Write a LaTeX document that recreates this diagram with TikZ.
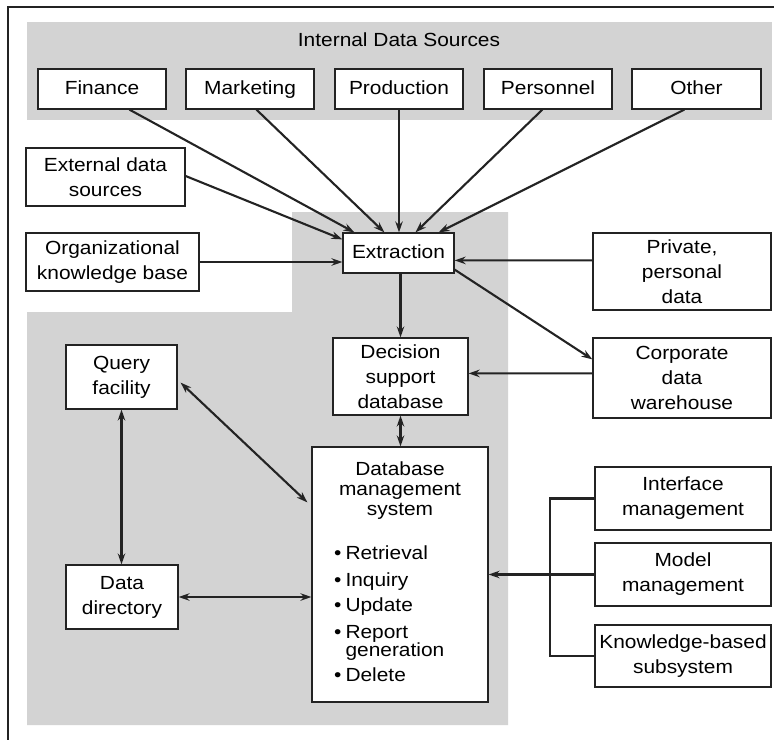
\documentclass[tikz,border=0pt]{standalone}
\usepackage{fontspec}
\setmainfont{Liberation Sans}[FakeStretch=1.1]
\usetikzlibrary{arrows.meta,calc}
\newcommand\dssfont{\fontsize{19bp}{25bp}\selectfont}
\newcommand\dsstitlefont{\fontsize{19bp}{20bp}\selectfont}
\definecolor{panelgray}{RGB}{211,211,211}
\definecolor{ink}{RGB}{35,35,35}
\begin{document}
\begin{tikzpicture}[x=1bp,y=-1bp,
  box/.style={draw=ink, line width=1.2bp, fill=white, inner sep=0pt,
              align=center, font=\dssfont},
  oneline/.style={text height=14bp, text depth=4bp},
  conn/.style={draw=ink, line width=2.1bp, -{Stealth[length=11bp,width=7.5bp]}},
  bicon/.style={draw=ink, line width=2.1bp,
                {Stealth[length=11bp,width=7.5bp]}-{Stealth[length=11bp,width=7.5bp]}},
  tie/.style={draw=ink, line width=2.1bp},
]
\useasboundingbox (0,0) rectangle (775,740);

% page frame (top and left rule)
\draw[ink, line width=1.3bp] (8,740) -- (8,7) -- (774,7);

% shaded panels
\fill[panelgray] (27,22) rectangle (772,120);
\fill[panelgray] (292,212) -- (508,212) -- (508,725) -- (27,725)
                 -- (27,312) -- (292,312) -- cycle;

% internal data sources
\node[font=\dssfont, oneline] (intitle) at (399,42) {Internal Data Sources};
\node[box, oneline, minimum width=128bp, minimum height=40bp] (fin)  at (102,89)   {Finance};
\node[box, oneline, minimum width=128bp, minimum height=40bp] (mkt)  at (250,89)   {Marketing};
\node[box, oneline, minimum width=128bp, minimum height=40bp] (prod) at (399,89)   {Production};
\node[box, oneline, minimum width=128bp, minimum height=40bp] (pers) at (548,89)   {Personnel};
\node[box, oneline, minimum width=129bp, minimum height=40bp] (oth)  at (696.5,89) {Other};

% other sources
\node[box, minimum width=159bp, minimum height=58bp] (exs) at (105.5,177) {External data\\sources};
\node[box, minimum width=173bp, minimum height=58bp] (org) at (112.5,262) {Organizational\\knowledge base};
\node[box, minimum width=178bp, minimum height=77bp] (prv) at (682,271.5) {Private,\\personal\\data};
\node[box, minimum width=178bp, minimum height=80bp] (cor) at (682,378) {Corporate\\data\\warehouse};

% central pipeline
\node[box, oneline, minimum width=111bp, minimum height=40bp] (ext) at (398.5,253) {Extraction};
\node[box, minimum width=135bp, minimum height=77bp] (dsd) at (400.5,376.5) {Decision\\support\\database};
\node[box, minimum width=176bp, minimum height=255bp] (dbms) at (400,574.5) {};
\node[font=\dsstitlefont, align=center, inner sep=0pt, anchor=north] (dbmstitle)
  at (400,462) {Database\\management\\system};
\node[font=\dssfont, inner sep=0pt, anchor=north west] (dbmslist) at (334,542) {%
  \begin{tabular}{@{}l@{\hspace{4bp}}l@{}}
  \textbullet & Retrieval\\[2bp]
  \textbullet & Inquiry\\
  \textbullet & Update\\[2bp]
  \textbullet & Report\\[-7bp]
              & generation\\
  \textbullet & Delete
  \end{tabular}};

% query side
\node[box, minimum width=111bp, minimum height=64bp] (qry) at (121.5,377) {Query\\facility};
\node[box, minimum width=112bp, minimum height=64bp] (dd)  at (122,597) {Data\\directory};

% management subsystems
\node[box, minimum width=176bp, minimum height=63bp] (ifm) at (683,498.5) {Interface\\management};
\node[box, minimum width=176bp, minimum height=63bp] (mdl) at (683,574.5) {Model\\management};
\node[box, minimum width=176bp, minimum height=62bp] (kbs) at (683,656) {Knowledge-based\\subsystem};

% feeds into extraction
\draw[conn] ($(fin.south west)+(92,0)$)  -- ($(ext.north west)+(12,0)$);
\draw[conn] ($(mkt.south west)+(71,0)$)  -- ($(ext.north west)+(42,0)$);
\draw[conn] (prod.south) -- (prod.south |- ext.north);
\draw[conn] ($(pers.south west)+(59,0)$) -- ($(ext.north west)+(73,0)$);
\draw[conn] ($(oth.south west)+(53,0)$)  -- ($(ext.north east)+(-16,0)$);
\draw[conn] ($(exs.east)+(0,-1)$) -- ($(ext.north west)+(0,7)$);
\draw[conn] (org.east) -- (org.east -| ext.west);
\draw[conn] ($(prv.north west)+(0,28)$) -- ($(ext.north east)+(0,28)$);

% extraction outputs
\draw[conn] ($(ext.south east)+(0,-4)$) -- ($(cor.north west)+(0,22)$);
\draw[conn] ($(cor.north west)+(0,36)$) -- ($(dsd.north east)+(0,36)$);
\draw[conn] (ext.south -| dsd.north) -- (dsd.north);
\draw[bicon] (dsd.south) -- (dsd.south |- dbms.north);

% query facility links
\draw[bicon] ($(qry.south east)+(3,-27)$) -- ($(dbms.north west)+(-4,56)$);
\draw[bicon] (qry.south) -- (qry.south |- dd.north);
\draw[bicon] (dd.east) -- (dd.east -| dbms.west);

% subsystem bracket
\coordinate (brk) at (550,574.5);
\draw[tie] (ifm.west) -| (brk) |- (kbs.west);
\draw[conn] (mdl.west) -- (mdl.west -| dbms.east);
\end{tikzpicture}
\end{document}
